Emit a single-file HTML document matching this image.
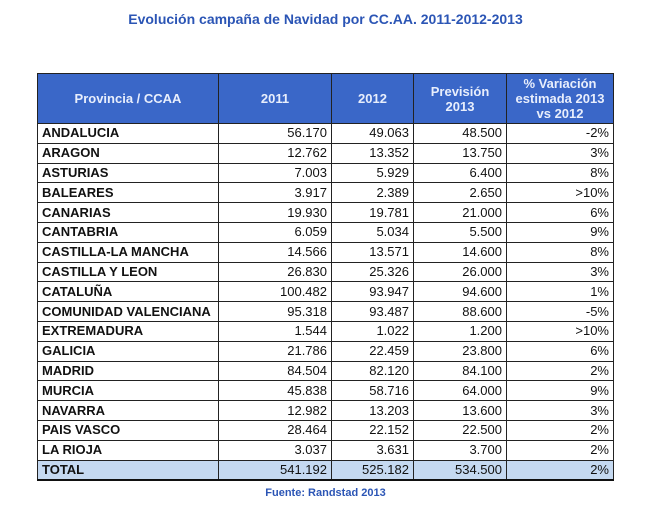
<!DOCTYPE html>
<html><head><meta charset="utf-8"><style>
body{margin:0;width:651px;height:511px;background:#fff;position:relative;overflow:hidden;font-family:"Liberation Sans",sans-serif}
#title{position:absolute;left:0;width:651px;top:11px;text-align:center;font-weight:bold;font-size:14px;color:#2b55b5}
table{position:absolute;left:37px;top:73px;border-collapse:collapse;table-layout:fixed}
td,th{border:1px solid #222;padding:0 4px;font-size:13px;height:18.8px;line-height:18px;overflow:hidden;white-space:nowrap}
th{background:#3a67c8;color:#e8eefc;font-size:13px;height:49px;line-height:15px;white-space:normal;text-align:center;font-weight:bold}
td{text-align:right;color:#111}
td.n{text-align:left;font-weight:bold}
tr.total td{background:#c5d9f1;border-bottom:2px solid #111}
#src{position:absolute;left:0;width:651px;top:487px;text-align:center;font-weight:bold;font-size:11px;color:#2b55b5}
</style></head><body>
<div id="title">Evolución campaña de Navidad por CC.AA. 2011-2012-2013</div>
<table>
<colgroup><col style="width:181px"><col style="width:113px"><col style="width:82px"><col style="width:93px"><col style="width:107px"></colgroup>
<thead><tr>
<th>Provincia / CCAA</th>
<th>2011</th>
<th>2012</th>
<th>Previsión 2013</th>
<th>% Variación estimada 2013 vs 2012</th>
</tr></thead>
<tbody id="tb"></tbody></table>
<div id="src">Fuente: Randstad 2013</div>
<script>
const regions=["ANDALUCIA","ARAGON","ASTURIAS","BALEARES","CANARIAS","CANTABRIA","CASTILLA-LA MANCHA","CASTILLA Y LEON","CATALUÑA","COMUNIDAD VALENCIANA","EXTREMADURA","GALICIA","MADRID","MURCIA","NAVARRA","PAIS VASCO","LA RIOJA","TOTAL"];
const v2011=["56.170","12.762","7.003","3.917","19.930","6.059","14.566","26.830","100.482","95.318","1.544","21.786","84.504","45.838","12.982","28.464","3.037","541.192"];
const v2012=["49.063","13.352","5.929","2.389","19.781","5.034","13.571","25.326","93.947","93.487","1.022","22.459","82.120","58.716","13.203","22.152","3.631","525.182"];
const v2013=["48.500","13.750","6.400","2.650","21.000","5.500","14.600","26.000","94.600","88.600","1.200","23.800","84.100","64.000","13.600","22.500","3.700","534.500"];
const variation=["-2%","3%","8%",">10%","6%","9%","8%","3%","1%","-5%",">10%","6%","2%","9%","3%","2%","2%","2%"];
const tb=document.getElementById('tb');
regions.forEach((r,i)=>{
  const tr=document.createElement('tr');
  
  
  if(r==="TOTAL")tr.className='total';
  [r,v2011[i],v2012[i],v2013[i],variation[i]].forEach((t,j)=>{
    const td=document.createElement('td');
    td.textContent=t;
    if(j===0)td.className='n';
    
    
    tr.appendChild(td);
  });
  tb.appendChild(tr);
});
</script>
</body></html>
